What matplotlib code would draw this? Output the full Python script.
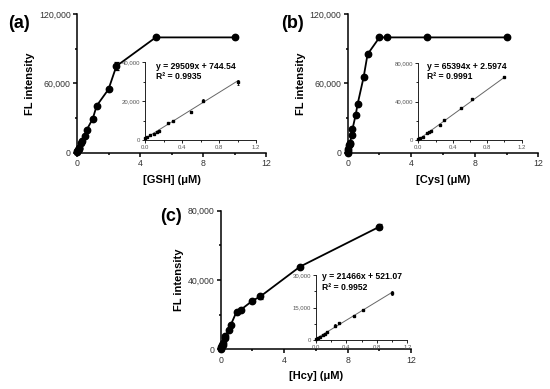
import matplotlib
matplotlib.use("Agg")
import matplotlib.pyplot as plt
import numpy as np
from matplotlib.ticker import FuncFormatter, MultipleLocator

plt.rcParams['font.family'] = ['Liberation Sans', 'DejaVu Sans']

conc = [0, 0.025, 0.05, 0.1, 0.125, 0.15, 0.25, 0.3, 0.5, 0.625, 1, 1.25, 2, 2.5, 5, 10]

gsh_y = [800, 1400, 2500, 3100, 3900, 4400, 8500, 10000, 14300, 20200, 29600, 40800, 55000, 75000, 99800, 99800]
gsh_err = [200, 200, 200, 200, 300, 300, 300, 300, 700, 800, 1200, 800, 800, 3500, 800, 800]

cys_y = [300, 1500, 3200, 6600, 8000, 9000, 15800, 20600, 32700, 42300, 65300, 85200, 99800, 99800, 99800, 99800]
cys_err = [200, 200, 200, 200, 300, 300, 300, 300, 600, 600, 700, 800, 800, 800, 800, 800]

hcy_y = [460, 800, 1230, 2200, 2770, 3850, 6600, 7700, 11100, 13850, 21700, 22700, 28000, 30500, 47700, 70700]
hcy_err = [150, 150, 150, 150, 200, 200, 700, 300, 300, 400, 1000, 800, 800, 1500, 1000, 1500]

fits = {
    'GSH': (29509, 744.54, '0.9935', '744.54'),
    'Cys': (65394, 2.5974, '0.9991', '2.5974'),
    'Hcy': (21466, 521.07, '0.9952', '521.07'),
}

W, H = 550, 389
fig = plt.figure(figsize=(5.5, 3.89), dpi=100)

def ax_px(l, t, r, b):
    return fig.add_axes([l / W, 1 - b / H, (r - l) / W, (b - t) / H])

comma = FuncFormatter(lambda v, p: f'{v:,.0f}')

def style(ax, lw, fs, tl, color):
    for s in ['top', 'right']:
        ax.spines[s].set_visible(False)
    for s in ['left', 'bottom']:
        ax.spines[s].set_linewidth(lw)
    ax.tick_params(which='major', direction='out', length=tl, width=lw, labelsize=fs, labelcolor=color, pad=1.5)
    ax.tick_params(which='minor', direction='out', length=tl * 0.6, width=lw)
    ax.patch.set_alpha(0)

def main_panel(rect, y, err, ymax, ystep, name, letter, letter_xy):
    ax = ax_px(*rect)
    ax.errorbar(conc, y, yerr=err, color='black', lw=1.3, marker='o', ms=4.6,
                capsize=1.8, elinewidth=0.9, capthick=0.9, zorder=3, clip_on=False)
    ax.set_xlim(0, 12)
    ax.set_ylim(0, ymax)
    ax.xaxis.set_major_locator(MultipleLocator(4))
    ax.xaxis.set_minor_locator(MultipleLocator(2))
    ax.yaxis.set_major_locator(MultipleLocator(ystep))
    ax.yaxis.set_minor_locator(MultipleLocator(ystep / 2))
    ax.yaxis.set_major_formatter(comma)
    style(ax, 1.1, 6.3, 3, '#333333')
    ax.set_xlabel(f'[{name}] (μM)', fontsize=8, fontweight='bold', labelpad=5)
    ax.set_ylabel('FL intensity', fontsize=8, fontweight='bold', labelpad=3)
    fig.text(letter_xy[0] / W, 1 - letter_xy[1] / H, f'({letter})', fontsize=13,
             fontweight='bold', ha='center', va='center')
    return ax

def inset_panel(rect, y, err, ymax, name, text_xy):
    ax = ax_px(*rect)
    slope, icpt, r2, istr = fits[name]
    xf = np.array([0, 1.0])
    ax.plot(xf, slope * xf + icpt, color='#666666', lw=0.7, zorder=2)
    n = 11
    ax.errorbar(conc[:n], y[:n], yerr=err[:n], color='black', lw=0, marker='s', ms=2,
                elinewidth=0.6, capsize=1, capthick=0.6, zorder=3, clip_on=False)
    ax.set_xlim(0, 1.2)
    ax.set_ylim(0, ymax)
    ax.xaxis.set_major_locator(MultipleLocator(0.4))
    ax.xaxis.set_minor_locator(MultipleLocator(0.2))
    ax.yaxis.set_major_locator(MultipleLocator(ymax / 2))
    ax.yaxis.set_minor_locator(MultipleLocator(ymax / 4))
    ax.xaxis.set_major_formatter(FuncFormatter(lambda v, p: f'{v:.1f}'))
    ax.yaxis.set_major_formatter(comma)
    style(ax, 0.6, 4.3, 2, '#555555')
    fig.text(text_xy[0] / W, 1 - text_xy[1] / H,
             f'y = {slope}x + {istr}\nR² = {r2}', fontsize=6.2, fontweight='bold',
             ha='left', va='center', linespacing=1.15)
    return ax

main_panel((77, 14, 266, 153), gsh_y, gsh_err, 120000, 60000, 'GSH', 'a', (19, 23))
inset_panel((145, 62, 256, 140), gsh_y, gsh_err, 40000, 'GSH', (156.5, 71.5))

main_panel((347.7, 14, 538.3, 153), cys_y, cys_err, 120000, 60000, 'Cys', 'b', (292, 23))
inset_panel((418.3, 63.3, 521.7, 139.7), cys_y, cys_err, 80000, 'Cys', (427, 71.5))

main_panel((220.7, 210.7, 411, 349.3), hcy_y, hcy_err, 80000, 40000, 'Hcy', 'c', (171, 217))
inset_panel((315.7, 275, 407.3, 340), hcy_y, hcy_err, 30000, 'Hcy', (322, 282))

fig.savefig('out.png', dpi=100)
